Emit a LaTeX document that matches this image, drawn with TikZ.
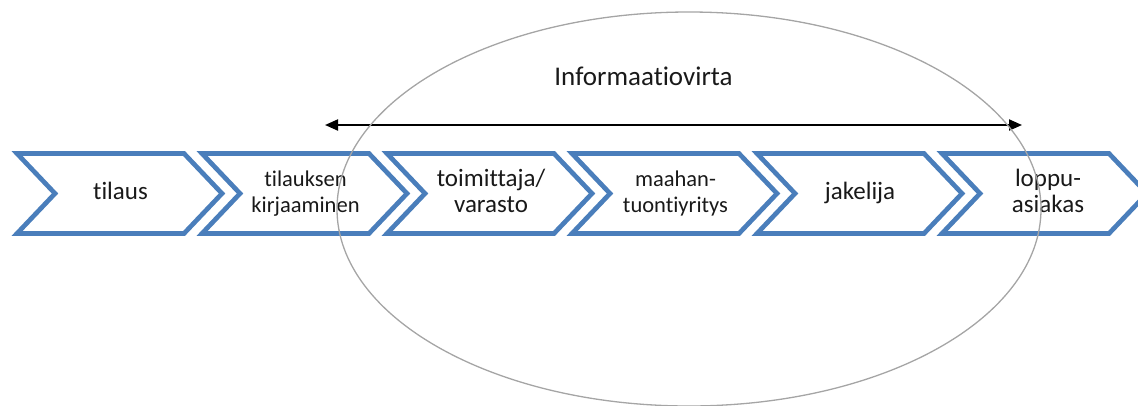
\documentclass[tikz,border=0pt]{standalone}
\usepackage{fontspec}
\setmainfont{Carlito}[Ligatures={NoCommon,NoContextual}]
\usetikzlibrary{arrows.meta}
\definecolor{chevblue}{RGB}{74,126,187}
\definecolor{ellgray}{RGB}{165,165,165}
\definecolor{txt}{RGB}{25,25,25}
\tikzset{
  chev/.style={draw=chevblue, line width=4.7pt, line join=miter, miter limit=10},
  biglabel/.style={font=\fontsize{25}{26}\selectfont, text=txt, inner sep=0pt, anchor=base, align=center},
  smalllabel/.style={font=\fontsize{22.5}{26}\selectfont, text=txt, inner sep=0pt, anchor=base, align=center},
  titlelabel/.style={font=\fontsize{27}{30}\selectfont, text=txt, inner sep=0pt, anchor=base},
  flow/.style={line width=2pt, {Triangle[length=13pt,width=11pt]}-{Triangle[length=13pt,width=11pt]}},
  infoellipse/.style={draw=ellgray, line width=1.3pt}
}
\begin{document}
\begin{tikzpicture}[x=1pt,y=-1pt]
\useasboundingbox (0,0) rectangle (1138,405);
\clip (0,0) rectangle (1138,405);
% chevrons
\foreach \L in {17,202,387,572,757,942}{
  \draw[chev] (\L,153.5) -- ++(167,0) -- ++(38,40) -- ++(-38,40) -- ++(-167,0) -- ++(38,-40) -- cycle;
}
% labels
\node[biglabel] (t1) at (120.5,199.3) {tilaus};
\node[smalllabel] (t2) at (305.5,212.5) {tilauksen\\kirjaaminen};
\node[biglabel] (t3) at (491,212.5) {toimittaja/\\varasto};
\node[smalllabel] (t4) at (675.5,212.5) {maahan-\\tuontiyritys};
\node[biglabel] (t5) at (860,199.3) {jakelija};
\node[biglabel] (t6) at (1048,212.5) {loppu-\\asiakas};
% title and arrow
\node[titlelabel] (title) at (643.5,85) {Informaatiovirta};
\coordinate (aL) at (325,125);
\coordinate (aR) at (1022,125);
\draw[flow] (aL) -- (aR);
% ellipse
\draw[infoellipse] (689,209) ellipse [x radius=352pt, y radius=197pt];
\end{tikzpicture}
\end{document}
